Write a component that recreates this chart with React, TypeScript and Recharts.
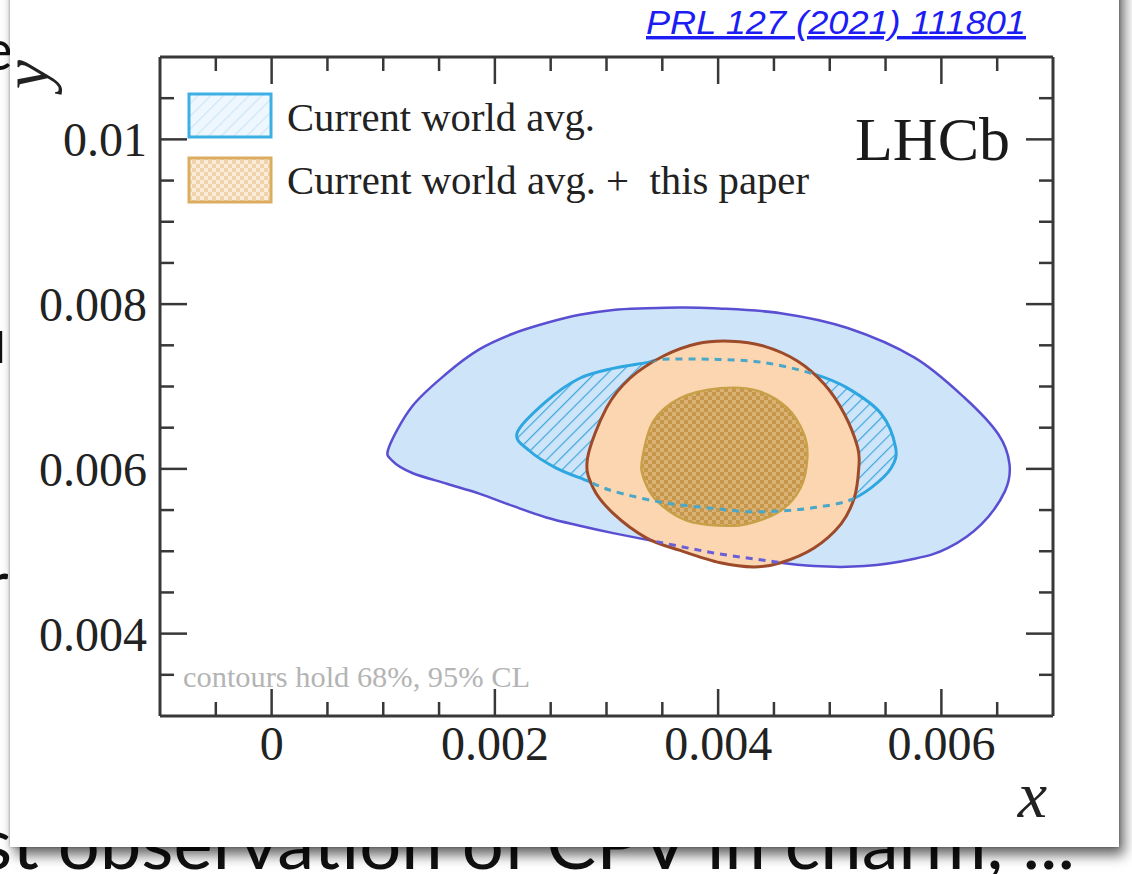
import React from "react";
import { ReferenceLine, Scatter, ScatterChart, XAxis, YAxis } from "recharts";

// contour outlines, in units of 1e-3 (x, y)
const worldAvg95: [number, number][] = [
  [1.05, 6.26], [1.26, 6.76], [1.57, 7.16], [1.86, 7.45], [2.16, 7.64], [2.46, 7.77],
  [2.76, 7.87], [3.06, 7.93], [3.36, 7.95], [3.66, 7.96], [3.96, 7.95], [4.56, 7.89],
  [5.16, 7.71], [5.76, 7.35], [6.21, 6.86], [6.51, 6.42], [6.61, 6.06], [6.57, 5.73],
  [6.36, 5.33], [6.06, 5.04], [5.76, 4.91], [5.31, 4.82], [4.86, 4.82], [4.41, 4.89],
  [3.96, 4.98], [3.51, 5.1], [3.06, 5.22], [2.76, 5.31], [2.46, 5.41], [2.16, 5.55],
  [1.86, 5.7], [1.57, 5.82], [1.26, 5.95], [1.08, 6.1],
];

const worldAvg68: [number, number][] = [
  [2.2, 6.44], [2.46, 6.82], [2.76, 7.1], [3.06, 7.22], [3.36, 7.29], [3.51, 7.33],
  [3.96, 7.33], [4.41, 7.29], [4.86, 7.15], [5.16, 6.98], [5.46, 6.67], [5.59, 6.26],
  [5.55, 6.01], [5.37, 5.77], [5.16, 5.61], [4.86, 5.53], [4.56, 5.49], [4.26, 5.48],
  [3.96, 5.52], [3.51, 5.59], [3.06, 5.73], [2.82, 5.86], [2.55, 6.01], [2.31, 6.22],
];

const combined95: [number, number][] = [
  [2.83, 6.13], [3.0, 6.74], [3.21, 7.1], [3.51, 7.37], [3.81, 7.52], [4.11, 7.55],
  [4.41, 7.49], [4.71, 7.31], [4.95, 7.03], [5.13, 6.67], [5.25, 6.26], [5.26, 6.01],
  [5.22, 5.65], [5.1, 5.33], [4.86, 5.04], [4.56, 4.86], [4.32, 4.81], [4.02, 4.86],
  [3.66, 5.01], [3.36, 5.16], [3.06, 5.46], [2.88, 5.77],
];

const combined68: [number, number][] = [
  [3.32, 6.13], [3.42, 6.58], [3.66, 6.86], [4.02, 6.98], [4.35, 6.95], [4.62, 6.74],
  [4.77, 6.42], [4.8, 6.13], [4.74, 5.77], [4.56, 5.49], [4.26, 5.33], [4.02, 5.31],
  [3.72, 5.37], [3.45, 5.61], [3.33, 5.89],
];

const xMajorTicks = [0, 0.002, 0.004, 0.006];
const xMinorTicks = [-0.0005, 0.0005, 0.001, 0.0015, 0.0025, 0.003, 0.0035, 0.0045, 0.005, 0.0055, 0.0065];
const yMajorTicks = [0.004, 0.006, 0.008, 0.01];
const yMinorTicks = [0.0035, 0.0045, 0.005, 0.0055, 0.0065, 0.007, 0.0075, 0.0085, 0.009, 0.0095, 0.0105];

const legendLabels = ["Current world avg.", "Current world avg. +  this paper"];

const W = 1132;
const H = 874;
const PLOT = { left: 160, right: 1053, top: 57, bottom: 716 };
const Y_AXIS_W = 150;
const X_AXIS_H = 60;
const SERIF = "'Liberation Serif', 'Times New Roman', serif";
const AXIS = "#383838";

const toPoints = (c: [number, number][]) => c.map(([x, y]) => ({ x: x / 1000, y: y / 1000 }));

// smooth closed curve through the scaled points (Catmull-Rom)
function closedPath(pts: { x: number; y: number }[]) {
  const n = pts.length;
  let d = `M${pts[0].x},${pts[0].y}`;
  for (let i = 0; i < n; i++) {
    const p0 = pts[(i - 1 + n) % n];
    const p1 = pts[i];
    const p2 = pts[(i + 1) % n];
    const p3 = pts[(i + 2) % n];
    const c1x = p1.x + (p2.x - p0.x) / 6;
    const c1y = p1.y + (p2.y - p0.y) / 6;
    const c2x = p2.x - (p3.x - p1.x) / 6;
    const c2y = p2.y - (p3.y - p1.y) / 6;
    d += ` C${c1x},${c1y} ${c2x},${c2y} ${p2.x},${p2.y}`;
  }
  return d + "Z";
}

const noDot = () => <g />;

const XTick = (props: any) => {
  const { x, payload } = props;
  const major = xMajorTicks.includes(payload.value);
  const len = major ? 27 : 14;
  return (
    <g>
      <line x1={x} x2={x} y1={PLOT.bottom} y2={PLOT.bottom - len} stroke={AXIS} strokeWidth={2.5} />
      <line x1={x} x2={x} y1={PLOT.top} y2={PLOT.top + len} stroke={AXIS} strokeWidth={2.5} />
      {major && (
        <text x={x} y={PLOT.bottom + 44} textAnchor="middle" fontSize={48} fontFamily={SERIF} fill="#222">
          {String(payload.value)}
        </text>
      )}
    </g>
  );
};

const YTick = (props: any) => {
  const { y, payload } = props;
  const major = yMajorTicks.includes(payload.value);
  const len = major ? 27 : 14;
  return (
    <g>
      <line x1={PLOT.left} x2={PLOT.left + len} y1={y} y2={y} stroke={AXIS} strokeWidth={2.5} />
      <line x1={PLOT.right} x2={PLOT.right - len} y1={y} y2={y} stroke={AXIS} strokeWidth={2.5} />
      {major && (
        <text x={PLOT.left - 13} y={y + 17} textAnchor="end" fontSize={48} fontFamily={SERIF} fill="#222">
          {String(payload.value)}
        </text>
      )}
    </g>
  );
};

const Patterns = () => (
  <defs>
    <pattern id="hatchBlue" width="9" height="9" patternUnits="userSpaceOnUse" patternTransform="rotate(45)">
      <line x1="0" y1="0" x2="0" y2="9" stroke="#3ea7dd" strokeWidth="2.4" />
    </pattern>
    <pattern id="checkTan" width="8" height="8" patternUnits="userSpaceOnUse">
      <rect width="8" height="8" fill="#d9b274" />
      <rect width="4" height="4" fill="#c6974a" />
      <rect x="4" y="4" width="4" height="4" fill="#c6974a" />
    </pattern>
    <pattern id="hatchLegend" width="9" height="9" patternUnits="userSpaceOnUse" patternTransform="rotate(45)">
      <rect width="9" height="9" fill="#eef7fd" />
      <line x1="0" y1="0" x2="0" y2="9" stroke="#cde6f7" strokeWidth="2.4" />
    </pattern>
    <pattern id="checkLegend" width="8" height="8" patternUnits="userSpaceOnUse">
      <rect width="8" height="8" fill="#fbecd9" />
      <rect width="4" height="4" fill="#f0d2ad" />
      <rect x="4" y="4" width="4" height="4" fill="#f0d2ad" />
    </pattern>
  </defs>
);

export default function App() {
  const xTicks = [...xMinorTicks, ...xMajorTicks].sort((a, b) => a - b);
  const yTicks = [...yMinorTicks, ...yMajorTicks].sort((a, b) => a - b);

  return (
    <div style={{ position: "absolute", left: 0, top: 0, width: W, height: H, overflow: "hidden", background: "#fff" }}>
      {/* slide text peeking out behind the figure */}
      <svg width={W} height={H} style={{ position: "absolute", left: 0, top: 0 }}>
        <g fontFamily="Lato, 'Noto Sans', sans-serif" fill="#111">
          <text x={-17} y={70} fontSize={56}>e</text>
          <text x={-28} y={363} fontSize={62}>u</text>
          <text x={-14} y={606} fontSize={62}>r</text>
          <text x={-20} y={869} fontSize={72} textLength={1095} lengthAdjust="spacingAndGlyphs">
            st observation of CPV in charm, ...
          </text>
        </g>
      </svg>
      <div
        style={{
          position: "absolute",
          left: 10,
          top: -30,
          width: 1109,
          height: 877,
          background: "#fff",
          boxShadow: "5px 8px 12px rgba(0,0,0,0.6), 0 0 3px rgba(0,0,0,0.35)",
        }}
      />
      <div style={{ position: "absolute", left: 0, top: 0 }}>
        <ScatterChart
          width={W}
          height={H}
          margin={{
            top: PLOT.top,
            right: W - PLOT.right,
            bottom: H - PLOT.bottom - X_AXIS_H,
            left: PLOT.left - Y_AXIS_W,
          }}
        >
          <Patterns />
          <XAxis
            type="number"
            dataKey="x"
            domain={[-0.001, 0.007]}
            ticks={xTicks}
            interval={0}
            height={X_AXIS_H}
            tickLine={false}
            tick={XTick}
            axisLine={{ stroke: AXIS, strokeWidth: 3 }}
            allowDataOverflow
          />
          <YAxis
            type="number"
            dataKey="y"
            domain={[0.003, 0.011]}
            ticks={yTicks}
            interval={0}
            width={Y_AXIS_W}
            tickLine={false}
            tick={YTick}
            axisLine={{ stroke: AXIS, strokeWidth: 3 }}
            allowDataOverflow
          />
          <ReferenceLine y={0.011} stroke={AXIS} strokeWidth={3} />
          <ReferenceLine x={0.007} stroke={AXIS} strokeWidth={3} />

          <Scatter
            data={toPoints(worldAvg95)}
            isAnimationActive={false}
            shape={noDot}
            line={(p: any) => <path d={closedPath(p.points)} fill="#cee5f9" stroke="#5a4fd2" strokeWidth={2.5} />}
          />
          <Scatter
            data={toPoints(worldAvg68)}
            isAnimationActive={false}
            shape={noDot}
            line={(p: any) => <path d={closedPath(p.points)} fill="url(#hatchBlue)" stroke="#2ea6df" strokeWidth={3} />}
          />
          <Scatter
            data={toPoints(combined95)}
            isAnimationActive={false}
            shape={noDot}
            line={(p: any) => {
              const d = closedPath(p.points);
              return (
                <g>
                  <defs>
                    <clipPath id="combinedClip">
                      <path d={d} />
                    </clipPath>
                  </defs>
                  <path d={d} fill="#fbd6b1" stroke="#9d4a2b" strokeWidth={3} />
                </g>
              );
            }}
          />
          <Scatter
            data={toPoints(combined68)}
            isAnimationActive={false}
            shape={noDot}
            line={(p: any) => <path d={closedPath(p.points)} fill="url(#checkTan)" stroke="#c7a047" strokeWidth={2.2} />}
          />
          <Scatter
            data={toPoints(worldAvg68)}
            isAnimationActive={false}
            shape={noDot}
            line={(p: any) => (
              <path d={closedPath(p.points)} fill="none" stroke="#4ba7c8" strokeWidth={3} strokeDasharray="7 6" clipPath="url(#combinedClip)" />
            )}
          />
          <Scatter
            data={toPoints(worldAvg95)}
            isAnimationActive={false}
            shape={noDot}
            line={(p: any) => (
              <path d={closedPath(p.points)} fill="none" stroke="#6a5fd6" strokeWidth={3} strokeDasharray="7 6" clipPath="url(#combinedClip)" />
            )}
          />

          {/* legend */}
          <g fontFamily={SERIF} fill="#222">
            <rect x={189} y={94} width={82} height={43} fill="url(#hatchLegend)" stroke="#3cafe4" strokeWidth={3} />
            <text x={287} y={131} fontSize={40} textLength={308} lengthAdjust="spacingAndGlyphs">
              {legendLabels[0]}
            </text>
            <rect x={189} y={158} width={82} height={44} fill="url(#checkLegend)" stroke="#dcac61" strokeWidth={3} />
            <text x={287} y={194} fontSize={40} textLength={522} lengthAdjust="spacingAndGlyphs" style={{ whiteSpace: "pre" }}>
              {legendLabels[1]}
            </text>
          </g>

          <text x={1010} y={160} textAnchor="end" fontSize={62} fontFamily={SERIF} fill="#1a1a1a">LHCb</text>
          <text x={183} y={687} fontSize={30} fontFamily={SERIF} fill="#b4b4b4" textLength={347} lengthAdjust="spacingAndGlyphs">
            contours hold 68%, 95% CL
          </text>
          <text transform="translate(48,60) rotate(-90)" textAnchor="end" fontSize={66} fontStyle="italic" fontFamily={SERIF} fill="#222">y</text>
          <text x={1047} y={817} textAnchor="end" fontSize={66} fontStyle="italic" fontFamily={SERIF} fill="#222">x</text>
          <text
            x={646}
            y={34}
            fontSize={34}
            fontStyle="italic"
            fontFamily="'Liberation Sans', Arial, sans-serif"
            fill="#1c1cf5"
            textDecoration="underline"
            textLength={380}
            lengthAdjust="spacingAndGlyphs"
          >
            PRL 127 (2021) 111801
          </text>
        </ScatterChart>
      </div>
    </div>
  );
}
